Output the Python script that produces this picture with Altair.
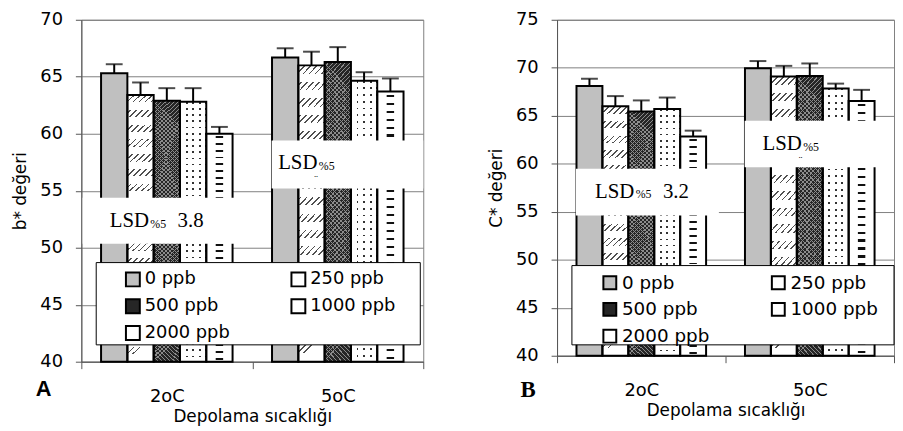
import altair as alt
import pandas as pd

# ---------------- data ----------------
temps = ["2oC", "5oC"]
doses = ["0 ppb", "250 ppb", "500 ppb", "1000 ppb", "2000 ppb"]

b_2oC = [65.3, 63.4, 62.9, 62.8, 60.0]
b_5oC = [66.7, 66.0, 66.3, 64.65, 63.7]
b_err_2oC = [0.8, 1.1, 1.1, 1.2, 0.6]
b_err_5oC = [0.8, 1.2, 1.3, 0.75, 1.15]

c_2oC = [68.1, 66.0, 65.45, 65.7, 62.85]
c_5oC = [69.95, 69.1, 69.15, 67.85, 66.55]
c_err_2oC = [0.75, 1.05, 1.15, 1.2, 0.6]
c_err_5oC = [0.75, 1.1, 1.3, 0.5, 1.15]

b_ticks = [40, 45, 50, 55, 60, 65, 70]
c_ticks = [40, 45, 50, 55, 60, 65, 70, 75]

lsd_b = "3.8"
lsd_c = "3.2"

FONT = "DejaVu Sans"
SERIF = "Liberation Serif"
CLEAR = "rgba(255,255,255,0)"
dose_colors = {"0 ppb": "#c0c0c0", "250 ppb": "#ffffff", "500 ppb": "#262626",
               "1000 ppb": "#ffffff", "2000 ppb": "#ffffff"}
# legend is filled column by column: reorder so that it reads row by row
legend_order = doses[0::2] + doses[1::2]


def frame(v2, v5, e2, e5):
    rows = []
    for t, vals, errs in ((temps[0], v2, e2), (temps[1], v5, e5)):
        for d, v, e in zip(doses, vals, errs):
            rows.append({"temp": t, "dose": d, "value": v, "upper": round(v + e, 3)})
    return pd.DataFrame(rows)


def stripes(n, frac, color, bg=CLEAR, x1=0, y1=0, x2=0, y2=1, phase=0.0):
    n = max(int(n), 1)
    stops = [{"offset": 0, "color": bg}]
    for i in range(n):
        s = round(min((i + phase) / n, 1), 5)
        e = round(min((i + phase + frac) / n, 1), 5)
        stops += [
            {"offset": s, "color": bg},
            {"offset": s, "color": color},
            {"offset": e, "color": color},
            {"offset": e, "color": bg},
        ]
    stops.append({"offset": 1, "color": bg})
    return {"gradient": "linear", "x1": x1, "y1": y1, "x2": x2, "y2": y2, "stops": stops}


def panel(df, ticks, ytitle, W, H, lsd_value, ann, letter, letter_font, leg):
    ymin, ymax = ticks[0], ticks[-1]
    bw = W / 2 / 6.5

    def hpx(v):
        return (v - ymin) / (ymax - ymin) * H

    mh = {d: sum(hpx(v) for v in df[df.dose == d].value) / 2 for d in doses}

    yscale = alt.Scale(domain=[ymin, ymax], nice=False, zero=False)
    yaxis = alt.Axis(
        values=ticks, title=ytitle, grid=True, gridColor="#808080", gridWidth=1,
        domainColor="#555555", tickColor="#555555", tickSize=6,
        labelFont=FONT, labelFontSize=18, labelColor="black", labelPadding=13,
        titleFont=FONT, titleFontSize=17, titleFontWeight="normal", titleColor="black",
        titlePadding=10,
    )
    x_enc = alt.X(
        "temp:N", sort=temps, scale=alt.Scale(paddingInner=0, paddingOuter=0),
        axis=alt.Axis(
            title="Depolama sıcaklığı", labelAngle=0, tickBand="extent", grid=False,
            domainColor="#555555", tickColor="#555555", tickSize=7,
            labelFont=FONT, labelFontSize=18, labelColor="black", labelPadding=19,
            titleFont=FONT, titleFontSize=17, titleFontWeight="normal", titleColor="black",
            titlePadding=3,
        ),
    )
    xo_enc = alt.XOffset("dose:N", sort=doses, scale=alt.Scale(paddingInner=0, paddingOuter=0.75))
    y_enc = alt.Y("value:Q", scale=yscale, axis=yaxis)

    base = alt.Chart(df).encode(x=x_enc, xOffset=xo_enc, y=y_enc)
    fill_enc = alt.Fill(
        "dose:N", sort=legend_order,
        scale=alt.Scale(domain=legend_order, range=[dose_colors[d] for d in legend_order]),
        legend=alt.Legend(
            orient="none", legendX=leg["x"], legendY=leg["y"], columns=2,
            columnPadding=leg["colpad"], rowPadding=leg["rowpad"], gridAlign="each",
            title=None, padding=0, symbolType="square", symbolSize=leg["sym"],
            symbolStrokeColor="black", symbolStrokeWidth=2, symbolOpacity=1,
            labelFont=FONT, labelFontSize=leg["fs"], labelColor="black", labelOffset=3,
        ),
    )

    layers = [base.mark_bar(strokeWidth=0).encode(y2=alt.datum(ymin), fill=fill_enc)]

    def overlay(dose, grad, **kw):
        return (
            base.transform_filter(alt.datum.dose == dose)
            .mark_bar(fill=grad, strokeWidth=0, **kw)
            .encode(y2=alt.datum(ymin))
        )

    # 250 ppb : short diagonal strokes
    h = mh["250 ppb"]
    layers.append(overlay("250 ppb", stripes(round(h / 6), 0.28, "#505050", x2=round(bw / h, 4), y2=1)))
    layers.append(overlay("250 ppb", stripes(round(h / 15.5), 0.5, "#ffffff", phase=0.5)))
    # 500 ppb : cross hatch on dark
    h = mh["500 ppb"]
    layers.append(overlay("500 ppb", stripes(round(h / 4.2), 0.26, "#8c8c8c", x2=round(bw / h, 4), y2=1)))
    layers.append(overlay("500 ppb", stripes(round(h / 4.2), 0.26, "#8c8c8c", x1=0, y1=1, x2=round(bw / h, 4), y2=0)))
    # 1000 ppb : dots
    h = mh["1000 ppb"]
    layers.append(overlay("1000 ppb", stripes(round(h / 6.5), 0.28, "#333333")))
    layers.append(overlay("1000 ppb", stripes(round(bw / 6), 0.72, "#ffffff", x2=1, y2=0, phase=0.15)))
    # 2000 ppb : dashes
    h = mh["2000 ppb"]
    layers.append(overlay("2000 ppb", stripes(round(h / 15), 0.14, "#111111", phase=0.2), width=7.5, xOffset=-6.5))
    layers.append(overlay("2000 ppb", stripes(round(h / 15), 0.14, "#111111", phase=0.7), width=7.5, xOffset=5))

    # outlines and error bars
    layers.append(base.mark_bar(fill="white", fillOpacity=0, stroke="black", strokeWidth=2).encode(y2=alt.datum(ymin)))
    layers.append(base.mark_rule(color="black", strokeWidth=2).encode(y2="upper:Q"))
    layers.append(
        alt.Chart(df).mark_tick(color="black", thickness=2, size=17, orient="horizontal")
        .encode(x=x_enc, xOffset=xo_enc, y=alt.Y("upper:Q", scale=yscale, axis=yaxis))
    )

    one = pd.DataFrame({"lsd": [lsd_value]})

    def box(x0, x1, v0, v1):
        return alt.Chart(one).mark_rect(fill="white").encode(
            x=alt.value(x0), x2=alt.value(x1), y=alt.datum(v0), y2=alt.datum(v1))

    def txt(s, xpx, yval, size, font=SERIF, field=False):
        t = alt.Text("lsd:N") if field else alt.value(s)
        return alt.Chart(one).mark_text(font=font, fontSize=size, align="left", baseline="alphabetic", color="black").encode(
            x=alt.value(xpx), y=alt.datum(yval), text=t)

    b1, b2 = ann
    layers.append(box(b1["x0"], b1["x1"], b1["v0"], b1["v1"]))
    layers.append(txt("LSD", b1["tx"], b1["ty"], 21))
    layers.append(txt("%5", b1["tx"] + 41, b1["ty"] - 0.08, 12))
    layers.append(txt("", b1["tx"] + 68.5, b1["ty"], 21, field=True))
    layers.append(box(b2["x0"], W, b2["v0"], b2["v1"]))
    layers.append(txt("LSD", b2["tx"], b2["ty"], 21))
    layers.append(txt("%5", b2["tx"] + 41, b2["ty"] - 0.08, 12))
    layers.append(txt("\u00a8", b2["tx"] + 36.5, b2["dy"], 11))

    # legend frame
    layers.append(alt.Chart(one).mark_rect(fill="white", stroke="black", strokeWidth=1).encode(
        x=alt.value(leg["bx0"]), x2=alt.value(leg["bx1"]), y=alt.value(leg["by0"]), y2=alt.value(leg["by1"])))

    # panel letter
    layers.append(alt.Chart(one).mark_text(font=letter_font, fontSize=letter["fs"], fontWeight="bold", align="left",
                                           baseline="alphabetic", color="black").encode(
        x=alt.value(letter["x"]), y=alt.value(letter["y"]), text=alt.value(letter["s"])))

    return alt.layer(*layers).properties(width=W, height=H)


df_b = frame(b_2oC, b_5oC, b_err_2oC, b_err_5oC)
df_c = frame(c_2oC, c_5oC, c_err_2oC, c_err_5oC)

left = panel(
    df_b, b_ticks, "b* değeri", 345, 345, lsd_b,
    ({"x0": 1.3, "x1": 154.3, "v0": 54.38, "v1": 50.35, "tx": 28.6, "ty": 51.8},
     {"x0": 192, "v0": 59.41, "v1": 55.19, "tx": 198.6, "ty": 56.89, "dy": 55.66}),
    {"x": -46, "y": 380, "s": "A", "fs": 22}, "Liberation Sans",
    {"x": 43, "y": 253, "colpad": 58, "rowpad": 5, "sym": 196, "fs": 18,
     "bx0": 15, "bx1": 342, "by0": 245, "by1": 328},
)
right = panel(
    df_c, c_ticks, "C* değeri", 340, 339, lsd_c,
    ({"x0": 19, "x1": 163.3, "v0": 59.47, "v1": 54.6, "tx": 38.3, "ty": 56.47},
     {"x0": 189.3, "v0": 64.49, "v1": 59.65, "tx": 207.3, "ty": 61.42, "dy": 59.93}),
    {"x": -37, "y": 381, "s": "B", "fs": 23}, SERIF,
    {"x": 44, "y": 256, "colpad": 58, "rowpad": 5, "sym": 169, "fs": 18.5,
     "bx0": 15, "bx1": 340, "by0": 248, "by1": 328},
)

chart = (
    alt.hconcat(left, right, spacing=63)
    .resolve_scale(fill="independent", x="independent", y="independent", xOffset="independent")
    .resolve_legend(fill="independent")
    .resolve_axis(x="independent", y="independent")
    .properties(padding={"left": 3, "top": 0, "right": 0, "bottom": 0})
    .configure_view(stroke="#808080", strokeWidth=1)
)

chart.save("out.html", embed_options={"renderer": "svg", "actions": False})
